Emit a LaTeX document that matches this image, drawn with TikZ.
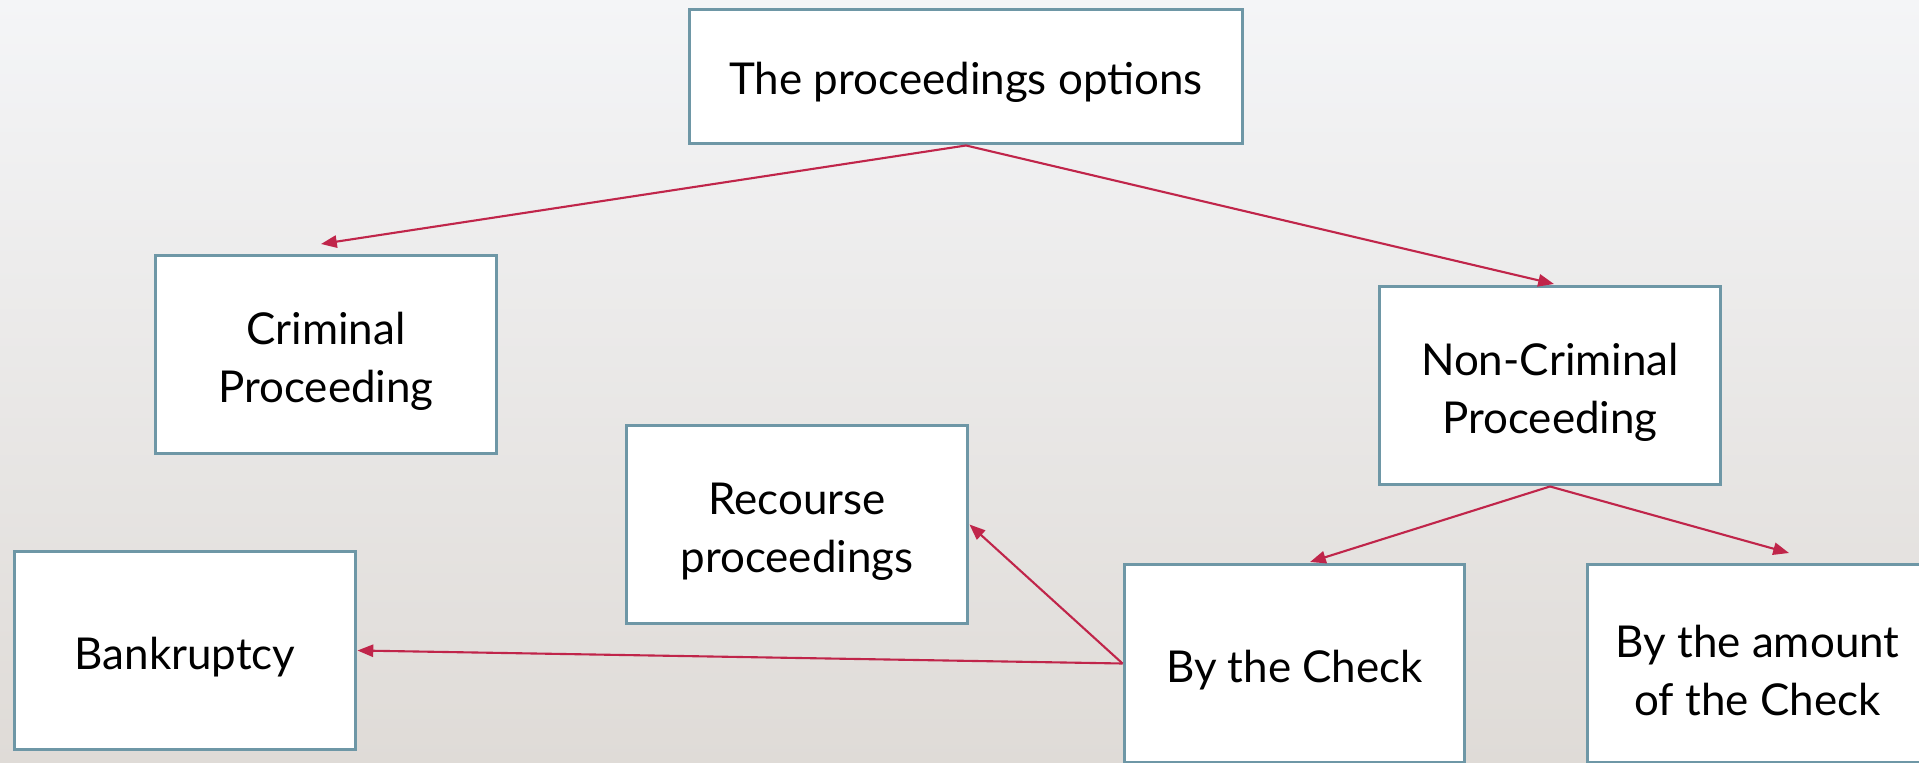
\documentclass[tikz,border=0pt]{standalone}
\usepackage{fontspec}
\setmainfont{Lato}
\usetikzlibrary{arrows.meta}
\definecolor{boxline}{HTML}{6E97A6}
\definecolor{arrowred}{HTML}{C0254A}
\definecolor{bgtop}{HTML}{F4F5F7}
\definecolor{bgbot}{HTML}{DFDBD7}
\tikzset{
  box/.style={draw=boxline, line width=1.7pt, fill=white, inner sep=0pt,
    minimum width=6.84cm, minimum height=3.98cm, align=center,
    font=\fontsize{25}{33}\selectfont,
    execute at begin node={\rule{0pt}{25.5pt}}},
  twoline/.style={execute at begin node={\rule{0pt}{59pt}}},
  conn/.style={draw=arrowred, line width=1.2pt, -{Triangle[length=9pt,width=7pt]}}
}
\begin{document}
\begin{tikzpicture}[x=0.02cm, y=-0.02cm]
\useasboundingbox (0,0) rectangle (1919,763);
\clip (0,0) rectangle (1919,763);
\shade[top color=bgtop, bottom color=bgbot] (0,0) rectangle (1919,763);

\node[box, minimum width=11.08cm, minimum height=2.7cm] (top) at (966,76.5) {The proceedings options};
\node[box, twoline] (crim) at (326,354.5) {Criminal\\Proceeding};
\node[box, twoline] (noncrim) at (1550,385.5) {Non-Criminal\\Proceeding};
\node[box, twoline] (recourse) at (797,524.5) {Recourse\\proceedings};
\node[box] (bank) at (185,650.5) {Bankruptcy};
\node[box, minimum width=6.82cm] (check) at (1294.5,663.5) {By the Check};
\node[box, twoline, minimum width=6.82cm] (amount) at (1757.5,663.5) {By the amount\\of the Check};

\coordinate (crimIn) at (321,244);
\coordinate (noncrimIn) at (1554,284);
\coordinate (checkIn) at (1310,562);
\coordinate (amountIn) at (1789,553);

\draw[conn] (top.south) -- (crimIn);
\draw[conn] (top.south) -- (noncrimIn);
\draw[conn] (noncrim.south) -- (checkIn);
\draw[conn] (noncrim.south) -- (amountIn);
\draw[conn] (check.west) -- (recourse.east);
\draw[conn] (check.west) -- (bank.east);
\end{tikzpicture}
\end{document}
